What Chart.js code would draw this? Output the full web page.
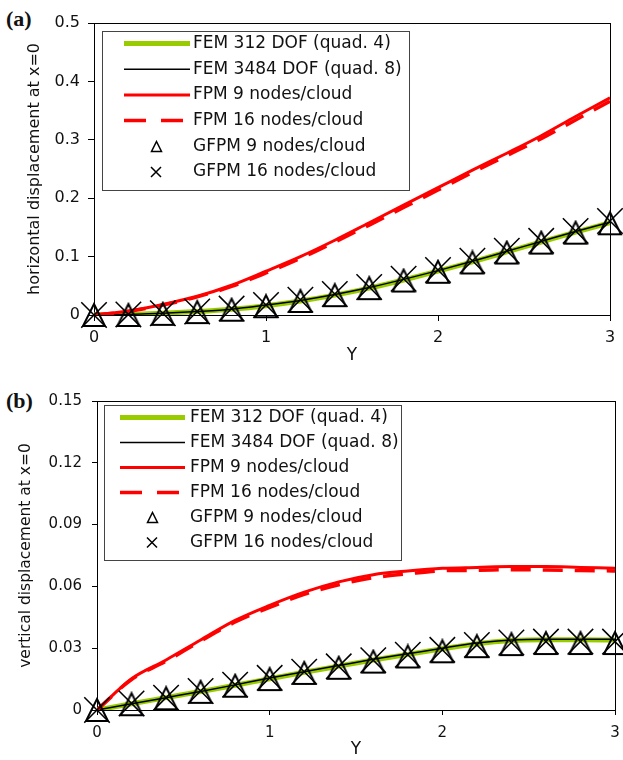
<!DOCTYPE html>
<html>
<head>
<meta charset="utf-8">
<script src="https://cdn.jsdelivr.net/npm/chart.js@4"></script>
<style>
  body { margin: 0; background: #fff; width: 623px; height: 760px; position: relative; overflow: hidden; }
  .panel { position: absolute; left: 0; }
  .tag { position: absolute; font: bold 22px "Liberation Serif", "Times New Roman", serif; color: #111; line-height: 1; }
</style>
</head>
<body>
<div class="tag" style="left:6px; top:8px;">(a)</div>
<div class="tag" style="left:6px; top:390px;">(b)</div>
<div class="panel" style="top:0;"><canvas id="chartA" width="623" height="375"></canvas></div>
<div class="panel" style="top:378px;"><canvas id="chartB" width="623" height="382"></canvas></div>
<script>
// Y positions along x=0 (same for both panels)
const yPos = [0, 0.2, 0.4, 0.6, 0.8, 1.0, 1.2, 1.4, 1.6, 1.8, 2.0, 2.2, 2.4, 2.6, 2.8, 3.0];
const xTicks = [0, 1, 2, 3];

// (a) horizontal displacement
const horizFem312  = [0, 0.001, 0.003, 0.006, 0.010, 0.016, 0.024, 0.034, 0.046, 0.060, 0.075, 0.091, 0.108, 0.125, 0.142, 0.158];
const horizFem3484 = [0, 0.001, 0.003, 0.006, 0.010, 0.017, 0.025, 0.035, 0.047, 0.061, 0.076, 0.092, 0.109, 0.126, 0.143, 0.159];
const horizFpm9    = [0, 0.007, 0.018, 0.032, 0.051, 0.075, 0.100, 0.128, 0.158, 0.188, 0.218, 0.248, 0.277, 0.307, 0.340, 0.372];
const horizFpm16   = [0, 0.006, 0.017, 0.031, 0.049, 0.072, 0.097, 0.125, 0.154, 0.184, 0.214, 0.244, 0.273, 0.302, 0.334, 0.366];
const horizGfpm9   = [0, 0.000, 0.002, 0.005, 0.009, 0.015, 0.024, 0.034, 0.046, 0.059, 0.074, 0.090, 0.107, 0.124, 0.141, 0.157];
const horizGfpm16  = [0, 0.001, 0.003, 0.006, 0.011, 0.017, 0.026, 0.036, 0.048, 0.062, 0.077, 0.093, 0.110, 0.127, 0.144, 0.161];
const horizTicks  = [0, 0.1, 0.2, 0.3, 0.4, 0.5];
const horizLabels = ['0', '0.1', '0.2', '0.3', '0.4', '0.5'];

// (b) vertical displacement
const vertFem312  = [0, 0.0030, 0.0060, 0.0090, 0.0120, 0.0152, 0.0183, 0.0213, 0.0243, 0.0270, 0.0297, 0.0322, 0.0337, 0.0341, 0.0341, 0.0340];
const vertFem3484 = [0, 0.0030, 0.0060, 0.0090, 0.0122, 0.0155, 0.0186, 0.0216, 0.0246, 0.0273, 0.0300, 0.0325, 0.0340, 0.0344, 0.0344, 0.0344];
const vertFpm9    = [0, 0.0152, 0.0243, 0.0340, 0.0435, 0.0508, 0.0572, 0.0622, 0.0657, 0.0675, 0.0688, 0.0692, 0.0696, 0.0696, 0.0692, 0.0688];
const vertFpm16   = [0, 0.0148, 0.0237, 0.0334, 0.0427, 0.0498, 0.0561, 0.0608, 0.0642, 0.0661, 0.0676, 0.0678, 0.0681, 0.0680, 0.0677, 0.0675];
const vertGfpm9   = [0, 0.0028, 0.0057, 0.0088, 0.0118, 0.0150, 0.0180, 0.0205, 0.0235, 0.0260, 0.0285, 0.0310, 0.0320, 0.0325, 0.0325, 0.0325];
const vertGfpm16  = [0, 0.0032, 0.0060, 0.0092, 0.0123, 0.0156, 0.0186, 0.0212, 0.0242, 0.0268, 0.0292, 0.0316, 0.0328, 0.0332, 0.0332, 0.0332];
const vertTicks  = [0, 0.03, 0.06, 0.09, 0.12, 0.15];
const vertLabels = ['0', '0.03', '0.06', '0.09', '0.12', '0.15'];

const seriesNames = ['FEM 312 DOF (quad. 4)', 'FEM 3484 DOF (quad. 8)', 'FPM 9 nodes/cloud',
                     'FPM 16 nodes/cloud', 'GFPM 9 nodes/cloud', 'GFPM 16 nodes/cloud'];

Chart.defaults.font.family = '"DejaVu Sans", sans-serif';
Chart.defaults.color = '#111';

// hollow triangle marker, drawn centered like the Excel one
function triangleMark(w, h, lw) {
  const c = document.createElement('canvas');
  c.width = w + 2 * lw;
  c.height = h + 2 * lw;
  const g = c.getContext('2d');
  g.strokeStyle = '#000';
  g.lineWidth = lw;
  g.beginPath();
  g.moveTo(c.width / 2, lw);
  g.lineTo(c.width - lw, c.height - lw);
  g.lineTo(lw, c.height - lw);
  g.closePath();
  g.stroke();
  return c;
}
const bigTriangle = triangleMark(22, 22, 2);
const smallTriangle = triangleMark(10, 10, 1.5);

const frame = {
  id: 'frame',
  beforeDatasetsDraw(chart) {
    const { ctx, chartArea: a } = chart;
    ctx.save();
    ctx.strokeStyle = '#000';
    ctx.lineWidth = 1;
    ctx.strokeRect(Math.round(a.left) + 0.5, Math.round(a.top) + 0.5, Math.round(a.right - a.left), Math.round(a.bottom - a.top));
    ctx.restore();
  }
};

const boxLegend = {
  id: 'boxLegend',
  afterDraw(chart, args, o) {
    const ctx = chart.ctx;
    ctx.save();
    ctx.fillStyle = '#fff';
    ctx.fillRect(o.left, o.top, o.width, o.height);
    ctx.strokeStyle = '#444';
    ctx.lineWidth = 1;
    ctx.strokeRect(o.left + 0.5, o.top + 0.5, o.width, o.height);
    ctx.font = '17px "DejaVu Sans", sans-serif';
    ctx.textBaseline = 'middle';
    chart.data.datasets.forEach((ds, i) => {
      const y = o.firstRow + i * o.rowGap;
      if (ds.showLine !== false) {
        ctx.beginPath();
        ctx.strokeStyle = ds.borderColor;
        ctx.lineWidth = ds.legendWidth;
        ctx.setLineDash(ds.legendDash || []);
        ctx.moveTo(o.lineStart, y);
        ctx.lineTo(o.lineEnd, y);
        ctx.stroke();
        ctx.setLineDash([]);
      } else if (ds.pointStyle === 'crossRot') {
        ctx.beginPath();
        ctx.strokeStyle = '#000';
        ctx.lineWidth = 1.5;
        ctx.moveTo(o.markX - 5, y - 5); ctx.lineTo(o.markX + 5, y + 5);
        ctx.moveTo(o.markX + 5, y - 5); ctx.lineTo(o.markX - 5, y + 5);
        ctx.stroke();
      } else {
        ctx.drawImage(smallTriangle, Math.round(o.markX - smallTriangle.width / 2), Math.round(y - smallTriangle.height / 2));
      }
      ctx.fillStyle = '#111';
      ctx.fillText(ds.label, o.textX, y);
    });
    ctx.restore();
  }
};

function pts(vals) {
  return yPos.map((x, i) => ({ x: x, y: vals[i] }));
}

function makeDatasets(fem312, fem3484, fpm9, fpm16, gfpm9, gfpm16) {
  return [
    { label: seriesNames[0], data: pts(fem312), borderColor: '#99cc00', borderWidth: 5, legendWidth: 5,
      pointRadius: 0, cubicInterpolationMode: 'monotone', order: 6 },
    { label: seriesNames[1], data: pts(fem3484), borderColor: '#000', borderWidth: 1.5, legendWidth: 1.5,
      pointRadius: 0, cubicInterpolationMode: 'monotone', order: 5 },
    { label: seriesNames[2], data: pts(fpm9), borderColor: '#ff0000', borderWidth: 3, legendWidth: 3,
      pointRadius: 0, cubicInterpolationMode: 'monotone', order: 3 },
    { label: seriesNames[3], data: pts(fpm16), borderColor: '#ff0000', borderWidth: 3.5, legendWidth: 3.5,
      borderDash: [20, 12], legendDash: [22, 15], pointRadius: 0, cubicInterpolationMode: 'monotone', order: 4 },
    { label: seriesNames[4], data: pts(gfpm9), showLine: false, pointStyle: bigTriangle, pointRadius: 12,
      borderColor: '#000', clip: false, order: 2 },
    { label: seriesNames[5], data: pts(gfpm16), showLine: false, pointStyle: 'crossRot', pointRadius: 18,
      pointBorderWidth: 1.5, borderColor: '#000', clip: false, order: 1 }
  ];
}

function buildChart(id, cfg) {
  return new Chart(document.getElementById(id), {
    type: 'line',
    data: { datasets: cfg.datasets },
    plugins: [frame, boxLegend],
    options: {
      responsive: false,
      animation: false,
      layout: { autoPadding: false, padding: { left: 0, top: cfg.padTop, right: cfg.padRight, bottom: 0 } },
      plugins: { legend: { display: false }, tooltip: { enabled: false }, boxLegend: cfg.legend },
      scales: {
        x: {
          type: 'linear', min: 0, max: 3,
          afterBuildTicks: s => { s.ticks = xTicks.map(v => ({ value: v })); },
          afterFit: s => { s.height = cfg.xHeight; s.paddingLeft = 0; s.paddingRight = 0; },
          grid: { drawOnChartArea: false, tickLength: cfg.tickLen, color: '#000' },
          border: { color: '#000' },
          ticks: { font: { size: cfg.tickSize }, padding: cfg.xTickPad, maxRotation: 0 },
          title: { display: true, text: 'Y', font: { size: 17 }, padding: { top: 0, bottom: cfg.xTitlePad } }
        },
        y: {
          type: 'linear', min: 0, max: cfg.yTicks[cfg.yTicks.length - 1],
          afterBuildTicks: s => { s.ticks = cfg.yTicks.map(v => ({ value: v })); },
          afterFit: s => { s.width = cfg.yWidth; s.paddingTop = 0; s.paddingBottom = 0; },
          grid: { drawOnChartArea: false, tickLength: cfg.tickLen, color: '#000' },
          border: { color: '#000' },
          ticks: { font: { size: cfg.tickSize }, padding: cfg.yTickPad, callback: (v, i) => cfg.yLabels[i] },
          title: { display: true, text: cfg.yTitle, font: { size: cfg.titleSize }, padding: { top: cfg.yTitlePad, bottom: 0 } }
        }
      }
    }
  });
}

buildChart('chartA', {
  datasets: makeDatasets(horizFem312, horizFem3484, horizFpm9, horizFpm16, horizGfpm9, horizGfpm16),
  yTicks: horizTicks, yLabels: horizLabels, yTitle: 'horizontal displacement at x=0',
  padTop: 23, padRight: 13, xHeight: 60, yWidth: 94, tickLen: 6, tickSize: 16, titleSize: 16,
  xTickPad: 7, yTickPad: 8, xTitlePad: 9, yTitlePad: 25,
  legend: { left: 102, top: 31, width: 307, height: 159, firstRow: 43.5, rowGap: 25.7,
            lineStart: 124, lineEnd: 190, markX: 156, textX: 193 }
});

buildChart('chartB', {
  datasets: makeDatasets(vertFem312, vertFem3484, vertFpm9, vertFpm16, vertGfpm9, vertGfpm16),
  yTicks: vertTicks, yLabels: vertLabels, yTitle: 'vertical displacement at x=0',
  padTop: 23, padRight: 8, xHeight: 50, yWidth: 97, tickLen: 5, tickSize: 15, titleSize: 15.5,
  xTickPad: 9, yTickPad: 10, xTitlePad: 0, yTitlePad: 17,
  legend: { left: 104, top: 27, width: 297, height: 155, firstRow: 39.5, rowGap: 25,
            lineStart: 120, lineEnd: 185, markX: 152, textX: 190 }
});
</script>
</body>
</html>
